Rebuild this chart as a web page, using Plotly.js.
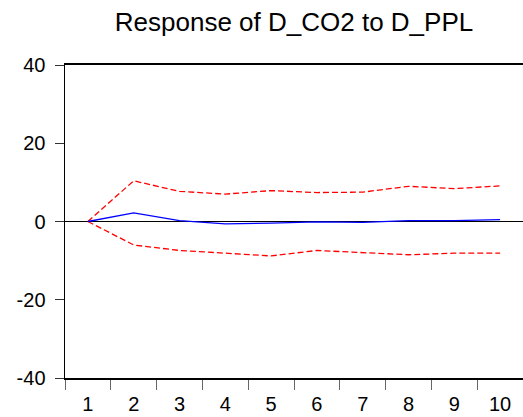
<!DOCTYPE html>
<html>
<head>
<meta charset="utf-8">
<script src="https://cdn.plot.ly/plotly-3.0.1.min.js"></script>
<style>html,body{margin:0;padding:0;background:#fff;}#chart{width:523px;height:417px;}</style>
</head>
<body>
<div id="chart"></div>
<script>
const periods = ["1","2","3","4","5","6","7","8","9","10"];
const response = [0, 2.2, 0.2, -0.6, -0.4, -0.1, -0.2, 0.2, 0.2, 0.5];
const upperBand = [0, 10.4, 7.7, 7.0, 7.9, 7.4, 7.5, 9.0, 8.4, 9.1];
const lowerBand = [0, -6.0, -7.4, -8.1, -8.8, -7.4, -7.9, -8.5, -8.1, -8.1];
const yTicks = [-40, -20, 0, 20, 40];

const traces = [
  {x: periods, y: upperBand, type: 'scatter', mode: 'lines', line: {color: '#ff0000', width: 1.3, dash: '6px,3px'}, hoverinfo: 'skip'},
  {x: periods, y: lowerBand, type: 'scatter', mode: 'lines', line: {color: '#ff0000', width: 1.3, dash: '6px,3px'}, hoverinfo: 'skip'},
  {x: periods, y: response, type: 'scatter', mode: 'lines', line: {color: '#0000ff', width: 1.3}, hoverinfo: 'skip'}
];

const layout = {
  width: 523, height: 417,
  margin: {l: 65, r: 0, t: 65, b: 39, pad: 0},
  paper_bgcolor: '#fff', plot_bgcolor: '#fff',
  showlegend: false,
  font: {family: '"Liberation Sans", Arial, sans-serif', color: '#000', size: 19},
  title: {text: 'Response of D_CO2 to D_PPL', font: {size: 26, color: '#000'}, xref: 'paper', x: 0.5, xanchor: 'center', yref: 'container', y: 0.948, yanchor: 'middle'},
  xaxis: {
    type: 'category', range: [-0.5, 9.5], tickson: 'boundaries',
    showline: true, linecolor: '#000', linewidth: 1.6, mirror: true,
    ticks: 'outside', ticklen: 10, tickcolor: '#666', tickwidth: 1,
    showgrid: false, zeroline: false, fixedrange: true,
    ticklabelstandoff: 7,
    tickfont: {size: 20}
  },
  yaxis: {
    range: [-40, 40], tickvals: yTicks, ticktext: yTicks.map(String),
    showline: true, linecolor: '#000', linewidth: 1.5, mirror: false,
    ticks: 'outside', ticklen: 9, tickcolor: '#333', tickwidth: 1,
    showgrid: false, zeroline: true, zerolinecolor: '#000', zerolinewidth: 1,
    ticklabelstandoff: 5, fixedrange: true,
    tickfont: {size: 20}
  }
};

Plotly.newPlot('chart', traces, layout, {staticPlot: true, displayModeBar: false});
</script>
</body>
</html>
